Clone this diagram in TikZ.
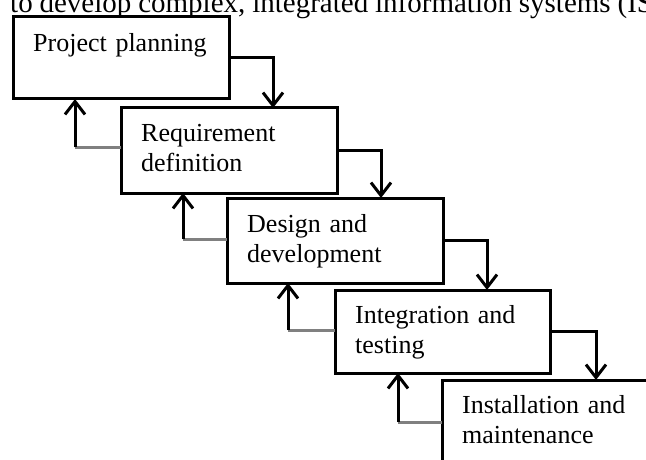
\documentclass[tikz,border=0pt]{standalone}
\usepackage{fontspec}
\setmainfont{Liberation Serif}
\usetikzlibrary{arrows.meta,calc}
\begin{document}
\begin{tikzpicture}[x=1pt,y=-1pt,
  boxst/.style={draw=black,line width=3pt,fill=white},
  lbl/.style={anchor=base west,inner sep=0pt,text width=200pt,align=left,
    font=\fontsize{26}{30}\selectfont},
  down/.style={draw=black,line width=3pt,-{Straight Barb[length=13pt,width=20pt]}},
  backh/.style={draw=black!50,line width=3pt},
  backv/.style={draw=black,line width=3pt,-{Straight Barb[length=13pt,width=20pt]}}]
\useasboundingbox (0,0) rectangle (646,460);
\clip (0,0) rectangle (646,460);
\fill[white] (0,0) rectangle (646,460);
% top text line (cut off)
\node[anchor=base west,inner sep=0pt,font=\fontsize{29}{33}\selectfont] (toptext) at (10,13)
  {\makebox[617pt][s]{to develop complex, integrated information systems (}IS)};
% boxes
\path[boxst] (13,17) rectangle (229,99);
\path[boxst] (121,108) rectangle (337,193);
\path[boxst] (227,198) rectangle (443,283);
\path[boxst] (335,290) rectangle (550,373);
\path[boxst] (442,380) rectangle (670,490);
% labels
\node[lbl] (t1) at (33,52) {Project planning};
\node[lbl] (t2) at (141,142) {Requirement\\definition};
\node[lbl] (t3) at (247,232) {Design and\\development};
\node[lbl] (t4) at (355,323) {Integration and\\testing};
\node[lbl] (t5) at (462,413) {Installation and\\maintenance};
% forward connectors
\coordinate (f1) at (273,58);
\coordinate (f2) at (381,150);
\coordinate (f3) at (487,240);
\coordinate (f4) at (596,331);
\draw[down] (229,58) -- (f1) -- (273,108);
\draw[down] (337,150) -- (f2) -- (381,198);
\draw[down] (443,240) -- (f3) -- (487,290);
\draw[down] (550,331) -- (f4) -- (596,380);
% backward connectors
\coordinate (r1) at (75,147);
\coordinate (r2) at (183,239);
\coordinate (r3) at (288,330);
\coordinate (r4) at (398,422);
\draw[backh] (121,147) -- (r1);
\draw[backv] (r1) -- (75,99);
\draw[backh] (227,239) -- (r2);
\draw[backv] (r2) -- (183,193);
\draw[backh] (335,330) -- (r3);
\draw[backv] (r3) -- (288,283);
\draw[backh] (442,422) -- (r4);
\draw[backv] (r4) -- (398,373);
\end{tikzpicture}
\end{document}
